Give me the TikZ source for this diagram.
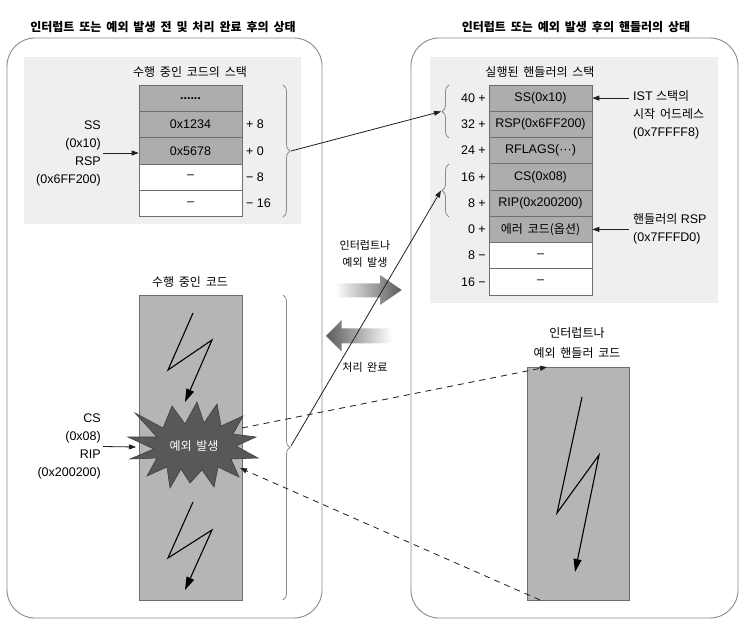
\documentclass[tikz,border=0pt]{standalone}
\usepackage{fontspec}
\setmainfont{Liberation Sans}
\newfontfamily\krfont[Scale=0.96,WordSpace=1.8]{Noto Sans CJK KR}
\newcommand\hk[1]{{\krfont #1}}
\usetikzlibrary{arrows.meta,decorations.pathreplacing,calc}
\definecolor{panelc}{HTML}{8A8A8A}
\definecolor{bgc}{HTML}{EEEFEF}
\definecolor{cellc}{HTML}{ADADAD}
\definecolor{codec}{HTML}{B5B5B5}
\definecolor{cellb}{HTML}{6E6E6E}
\definecolor{starc}{HTML}{58585A}
\definecolor{linec}{HTML}{231F20}
\definecolor{bracecol}{HTML}{8C8C8C}
\definecolor{arrdark}{HTML}{5A5A5A}
\begin{document}
\begin{tikzpicture}[x=1pt,y=-1pt,
  panel/.style={draw=panelc,line width=0.9pt,rounded corners=28pt},
  bgpanel/.style={fill=bgc},
  lat/.style={font=\fontsize{12.5}{18}\selectfont,inner sep=0pt},
  kor/.style={font=\fontsize{12.5}{18}\selectfont\krfont,inner sep=0pt},
  midkor/.style={font=\fontsize{11.5}{17}\selectfont\krfont,inner sep=0pt,align=center},
  ttl/.style={font=\fontsize{12.5}{15}\selectfont\krfont\bfseries,inner sep=0pt},
  cellD/.style={draw=cellb,fill=cellc,line width=0.7pt,minimum width=103pt,minimum height=26.3pt,inner sep=0pt,font=\fontsize{12.5}{18}\selectfont},
  cellW/.style={cellD,fill=white},
  coderect/.style={draw=cellb,fill=codec,line width=0.7pt,inner sep=0pt},
  conn/.style={draw=linec,line width=0.8pt,-{Triangle[length=7pt,width=5pt]}},
  dconn/.style={conn,dash pattern=on 6pt off 5pt},
  bolt/.style={draw=black,line width=1.1pt,-{Triangle[length=13pt,width=8pt]}},
  bracec/.style={draw=bracecol,line width=0.8pt,decorate,decoration={brace,amplitude=7pt}}
]
\useasboundingbox (0,0) rectangle (747,626);
\fill[white] (0,0) rectangle (747,626);

% panels
\draw[panel] (7,38) rectangle (322,618);
\draw[panel] (411,38) rectangle (738,618);
\fill[bgpanel] (24,57) rectangle (301,224);
\fill[bgpanel] (430,57) rectangle (718,303);

% titles
\node[ttl] (t1) at (163,27) {인터럽트 또는 예외 발생 전 및 처리 완료 후의 상태};
\node[ttl] (t2) at (576,27) {인터럽트 또는 예외 발생 후의 핸들러의 상태};

% left stack
\node[kor] (lst) at (190,72) {수행 중인 코드의 스택};
\node[cellD] (l1) at (190.5,98.15) {\textbf{......}};
\node[cellD] (l2) at (190.5,124.45) {0x1234};
\node[cellD] (l3) at (190.5,150.75) {0x5678};
\node[cellW] (l4) at (190.5,177.05) {–};
\node[cellW] (l5) at (190.5,203.35) {–};
\node[lat,anchor=west] (o2) at (246,124.45) {+ 8};
\node[lat,anchor=west] (o3) at (246,150.75) {+ 0};
\node[lat,anchor=west] (o4) at (246,177.05) {− 8};
\node[lat,anchor=west] (o5) at (246,203.35) {− 16};
\draw[bracec] (283,85) -- (283,217);
\coordinate (lb1) at (291,151);

\node[lat,anchor=east,align=right] (ssl) at (101,153) {SS\\(0x10)\\RSP\\(0x6FF200)};
\draw[conn] ($(ssl.east)+(2,0)$) -- (ssl.east -| l3.west);

% right stack
\node[kor] (rst) at (540,72) {실행된 핸들러의 스택};
\node[cellD] (r1) at (540.5,98.1) {SS(0x10)};
\node[cellD] (r2) at (540.5,124.4) {RSP(0x6FF200)};
\node[cellD] (r3) at (540.5,150.6) {RFLAGS(···)};
\node[cellD] (r4) at (540.5,176.9) {CS(0x08)};
\node[cellD] (r5) at (540.5,203.1) {RIP(0x200200)};
\node[cellD] (r6) at (540.5,229.4) {\hk{에러 코드(옵션)}};
\node[cellW] (r7) at (540.5,255.6) {–};
\node[cellW] (r8) at (540.5,281.9) {–};
\node[lat,anchor=east] (p1) at (486,98.1) {40 +};
\node[lat,anchor=east] (p2) at (486,124.4) {32 +};
\node[lat,anchor=east] (p3) at (486,150.6) {24 +};
\node[lat,anchor=east] (p4) at (486,176.9) {16 +};
\node[lat,anchor=east] (p5) at (486,203.1) {8 +};
\node[lat,anchor=east] (p6) at (486,229.4) {0 +};
\node[lat,anchor=east] (p7) at (486,255.6) {8 −};
\node[lat,anchor=east] (p8) at (486,281.9) {16 −};
\draw[bracec] (449,138) -- (449,85);
\draw[bracec] (449,217) -- (449,164);
\coordinate (rb1) at (441,111.5);
\coordinate (rb2) at (441,190.5);

\node[lat,anchor=west,align=left] (ist) at (633,115) {IST \hk{스택의}\\\hk{시작 어드레스}\\(0x7FFFF8)};
\coordinate (istA) at (629,98.1);
\draw[conn] (istA) -- (r1.east);
\node[lat,anchor=west,align=left] (hrsp) at (633,228.5) {\hk{핸들러의} RSP\\(0x7FFFD0)};
\coordinate (hrspA) at (629,229.4);
\draw[conn] (hrspA) -- (r6.east);

% left code
\node[kor] (lct) at (190,282) {수행 중인 코드};
\node[coderect,minimum width=103pt,minimum height=305pt] (code) at (190.5,447.5) {};
\draw[bolt] (193,313) -- (168,370) -- (212,340) -- (185,402);
\draw[bolt] (193,502) -- (168,558) -- (212,530) -- (185,590);
\draw[bracec] (283,295) -- (283,600);
\coordinate (lb2) at (291,446);

% starburst
\filldraw[fill=starc,draw=starc!70!black,line width=0.6pt]
 (135,413) -- (163,428) -- (172,406) -- (185,424) -- (197,402) -- (204,423) -- (217,404) -- (221,426)
 -- (243,416) -- (233,434) -- (256,437) -- (236,446) -- (258,458) -- (231,459) -- (239,477) -- (218,467)
 -- (214,487) -- (202,470) -- (190,483) -- (181,469) -- (170,488) -- (167,467) -- (147,476) -- (157,458)
 -- (130,459) -- (154,449) -- (128,437) -- (157,437) -- cycle;
\node[kor,text=white] (burst) at (194,446) {예외 발생};
\coordinate (burstW) at (136,447);
\coordinate (burstA) at (242,428);
\coordinate (burstB) at (240,468);

\node[lat,anchor=east,align=right] (csl) at (101,446.5) {CS\\(0x08)\\RIP\\(0x200200)};
\draw[conn] ($(csl.east)+(2,0)$) -- (burstW);

% right code
\node[kor,align=center,font=\fontsize{12.5}{20}\selectfont\krfont] (hct) at (577,343) {인터럽트나\\예외 핸들러 코드};
\node[coderect,minimum width=102pt,minimum height=233pt] (hcode) at (578,483.5) {};
\draw[bolt] (582,397) -- (557,513) -- (599,455) -- (575,572);
\coordinate (hTop) at (547,367);
\coordinate (hBot) at (540,600);

% gradient arrows
\shade[left color=white,right color=arrdark]
 (335,283.3) -- (380,283.3) -- (380,275) -- (401.7,290) -- (380,305) -- (380,297.3) -- (335,297.3) -- cycle;
\shade[left color=arrdark,right color=white]
 (391.7,328.3) -- (341.7,328.3) -- (341.7,320) -- (326,336) -- (341.7,351.7) -- (341.7,343.3) -- (391.7,343.3) -- cycle;
\node[midkor] (midA) at (365,253.5) {인터럽트나\\예외 발생};
\node[midkor] (midB) at (365,367) {처리 완료};

% connectors
\draw[conn] (lb1) -- (rb1);
\draw[conn] (lb2) -- (rb2);
\draw[dconn] (burstA) -- (hTop);
\draw[dconn] (hBot) -- (burstB);
\end{tikzpicture}
\end{document}
